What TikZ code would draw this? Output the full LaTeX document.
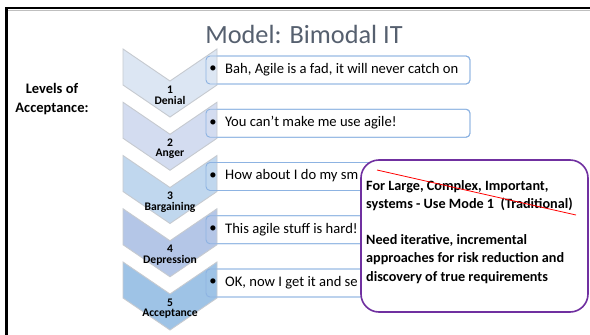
\documentclass[tikz,border=0pt]{standalone}
\usepackage{fontspec}
\setmainfont{Carlito}
\definecolor{titlegray}{HTML}{56606F}
\definecolor{chevA}{HTML}{DCE6F3}
\definecolor{chevB}{HTML}{D3DCF0}
\definecolor{chevC}{HTML}{C0D7EE}
\definecolor{chevD}{HTML}{B4C6E7}
\definecolor{chevE}{HTML}{9EC3E6}
\definecolor{chevline}{HTML}{C6CAD0}
\definecolor{boxline}{HTML}{8DB3E2}
\definecolor{noteline}{HTML}{7030A0}
\tikzset{
  chev/.style={draw=chevline, line width=0.9pt, line join=miter},
  itembox/.style={draw=boxline, line width=0.9pt, rounded corners=4pt},
  itemtext/.style={anchor=west, inner sep=0pt, font=\fontsize{14.6}{16}\selectfont},
  bullettext/.style={inner sep=0pt, font=\fontsize{14.6}{16}\selectfont},
  stagelabel/.style={align=center, inner sep=0pt, font=\bfseries\fontsize{11.6}{10.5}\selectfont},
}
% #1 top of the chevron, #2 fill colour
\newcommand\stagechevron[2]{%
  \filldraw[chev, fill=#2] (123,#1) -- (170,#1+32) -- (217,#1) -- (217,#1+36)
    -- (170,#1+68) -- (123,#1+36) -- cycle;}
% #1 top of the chevron: the statement box sits 7pt below it
\newcommand\stageboxfill[1]{%
  \filldraw[itembox, fill=white] (206,#1+7) rectangle (470,#1+35);}
\newcommand\stageboxline[1]{%
  \draw[itembox] (206,#1+7) rectangle (470,#1+35);}
\begin{document}
\begin{tikzpicture}[x=1pt, y=-1pt]
  \useasboundingbox (0,0) rectangle (590,335);
  \fill[white] (0,0) rectangle (590,335);

  % slide frame
  \draw[black!25, line width=0.6pt] (8,10.6) -- (590,10.6);
  \fill[black] (5,6.7) rectangle (590,9.4);
  \fill[black] (5,6.7) rectangle (8,335);

  % title
  \node[font=\fontsize{26.3}{30}\selectfont, text=titlegray] (title) at (304,34) {Model: Bimodal IT};

  % left caption
  \node[align=center, font=\bfseries\fontsize{14.5}{18.5}\selectfont] (levels) at (52,99)
    {Levels of\\Acceptance:};

  % statement boxes under the chevrons
  \stageboxfill{49}
  \stageboxfill{102.25}
  \stageboxfill{155.5}
  \stageboxfill{208.75}
  \stageboxfill{262}

  % chevrons
  \stagechevron{49}{chevA}
  \stagechevron{102.25}{chevB}
  \stagechevron{155.5}{chevC}
  \stagechevron{208.75}{chevD}
  \stagechevron{262}{chevE}

  % box outlines over the chevron tips
  \stageboxline{49}
  \stageboxline{102.25}
  \stageboxline{155.5}
  \stageboxline{208.75}
  \stageboxline{262}

  % stage labels
  \node[stagelabel] (s1) at (170,95.5)   {1\\Denial};
  \node[stagelabel] (s2) at (170,148.75) {2\\Anger};
  \node[stagelabel] (s3) at (170,202)    {3\\Bargaining};
  \node[stagelabel] (s4) at (170,255.25) {4\\Depression};
  \node[stagelabel] (s5) at (170,308.5)  {5\\Acceptance};

  % statements
  \node[bullettext] (b1) at (213,69.5)   {\textbullet};
  \node[bullettext] (b2) at (213,122.75) {\textbullet};
  \node[bullettext] (b3) at (213,176)    {\textbullet};
  \node[bullettext] (b4) at (213,229.25) {\textbullet};
  \node[bullettext] (b5) at (213,282.5)  {\textbullet};
  \node[itemtext] (t1) at (225,69.5)   {Bah, Agile is a fad, it will never catch on};
  \node[itemtext] (t2) at (225,122.75) {You can’t make me use agile!};
  \node[itemtext] (t3) at (225,176)    {How about I do my sm};
  \node[itemtext] (t4) at (225,229.25) {This agile stuff is hard!};
  \node[itemtext] (t5) at (225,282.5)  {OK, now I get it and se};

  % call-out note
  \filldraw[draw=noteline, fill=white, line width=1.6pt, rounded corners=18pt]
    (361,160) rectangle (588,312);
  \node[anchor=north west, align=left, inner sep=0pt,
        font=\bfseries\fontsize{14.2}{18.2}\selectfont] (note) at (366,180)
    {For Large, Complex, Important,\\
     systems - Use Mode 1~~(Traditional)\\[18.2pt]
     Need iterative, incremental\\
     approaches for risk reduction and\\
     discovery of true requirements};
  \coordinate (strikeA) at (377,170);
  \coordinate (strikeB) at (576,215);
  \draw[red, line width=0.8pt] (strikeA) -- (strikeB);
\end{tikzpicture}
\end{document}
